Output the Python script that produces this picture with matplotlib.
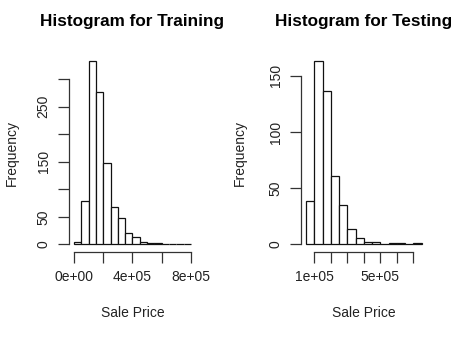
import numpy as np
import matplotlib
matplotlib.use("Agg")
import matplotlib.pyplot as plt

plt.rcParams['font.family'] = ['Liberation Sans', 'DejaVu Sans']

# bin counts (bins of 50,000)
train_breaks = np.arange(0, 800001, 50000)
train_counts = [5, 78, 332, 276, 148, 67, 47, 21, 13, 5, 2, 2, 0, 0, 0, 1]

test_breaks = np.arange(50000, 750001, 50000)
test_counts = [39, 163, 137, 61, 35, 14, 6, 2, 2, 0, 1, 1, 0, 1]

train_xticks = [0, 200000, 400000, 600000, 800000]
train_xlabels = ['0e+00', '', '4e+05', '', '8e+05']
train_yticks = [0, 50, 100, 150, 200, 250, 300]
train_ylabels = ['0', '50', '', '150', '', '250', '']

test_xticks = [100000, 200000, 300000, 400000, 500000, 600000, 700000]
test_xlabels = ['1e+05', '', '', '', '5e+05', '', '']
test_yticks = [0, 50, 100, 150]
test_ylabels = ['0', '50', '100', '150']

fig = plt.figure(figsize=(4.61, 3.49), dpi=100)
ax1 = fig.add_axes([0.1503, 0.2788, 0.2742, 0.5665])
ax2 = fig.add_axes([0.6538, 0.2788, 0.2707, 0.5665])

def r_hist(ax, breaks, counts, xticks, xlabels, yticks, ylabels, title, ylab_x):
    width = breaks[1] - breaks[0]
    ax.bar(breaks[:-1], counts, width=width, align='edge',
           facecolor='white', edgecolor='#111111', linewidth=0.9)
    xr = breaks[-1] - breaks[0]
    ax.set_xlim(breaks[0] - 0.04 * xr, breaks[-1] + 0.04 * xr)
    ymax = max(counts)
    ax.set_ylim(-0.04 * ymax, ymax * 1.04)
    for s in ['top', 'right']:
        ax.spines[s].set_visible(False)
    ax.spines['left'].set_bounds(yticks[0], yticks[-1])
    ax.spines['bottom'].set_bounds(xticks[0], xticks[-1])
    for s in ['left', 'bottom']:
        ax.spines[s].set_color('#333333')
        ax.spines[s].set_linewidth(0.9)
    ax.set_xticks(xticks)
    ax.set_xticklabels(xlabels)
    ax.set_yticks(yticks)
    ax.set_yticklabels(ylabels, rotation=90, va='center')
    ax.tick_params(axis='both', length=8, width=0.9, color='#333333',
                   labelsize=10, labelcolor='#222222')
    ax.tick_params(axis='x', pad=5.5)
    ax.tick_params(axis='y', pad=5.5)
    ax.set_title(title, fontsize=12.3, fontweight='bold', pad=20.5)
    ax.set_xlabel('Sale Price', fontsize=10, color='#222222')
    ax.set_ylabel('Frequency', fontsize=10, color='#222222')
    ax.xaxis.set_label_coords(0.5, -0.275)
    ax.yaxis.set_label_coords(ylab_x, 0.5)

r_hist(ax1, train_breaks, train_counts, train_xticks, train_xlabels,
       train_yticks, train_ylabels, 'Histogram for Training', -0.398)
r_hist(ax2, test_breaks, test_counts, test_xticks, test_xlabels,
       test_yticks, test_ylabels, 'Histogram for Testing', -0.436)

fig.savefig('out.png', dpi=100, facecolor='white')
